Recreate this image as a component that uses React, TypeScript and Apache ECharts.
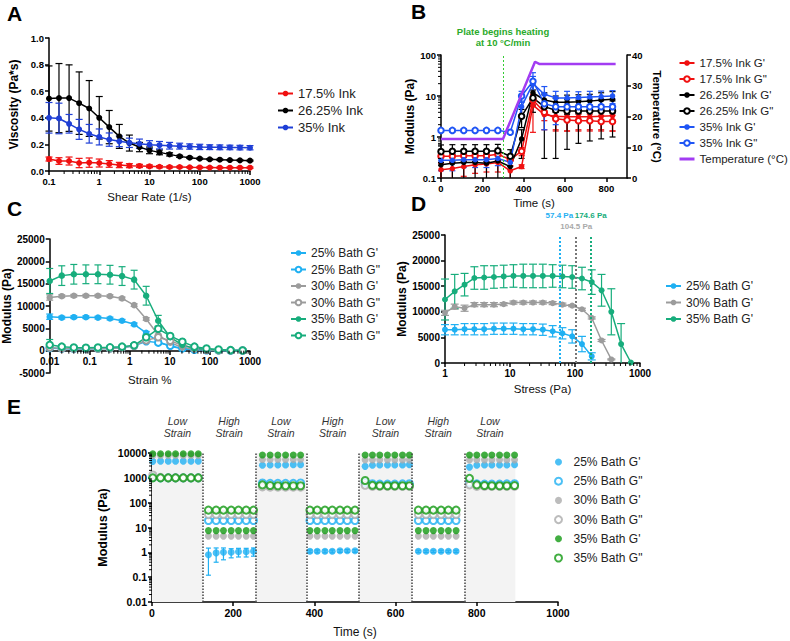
import React, { useEffect, useRef } from "react";
import * as echarts from "echarts";

const FONT = "Liberation Sans, Arial, sans-serif";

// ---------------- Panel A : viscosity ----------------
const shearRate = [0.1, 0.158, 0.251, 0.398, 0.631, 1, 1.58, 2.51, 3.98, 6.31, 10, 15.8, 25.1, 39.8, 63.1, 100, 158, 251, 398, 631, 1000];
const visc175 = [0.09, 0.075, 0.075, 0.06, 0.063, 0.06, 0.053, 0.045, 0.04, 0.038, 0.035, 0.032, 0.03, 0.03, 0.028, 0.027, 0.026, 0.025, 0.025, 0.025, 0.025];
const visc175Err = [0.015, 0.025, 0.03, 0.035, 0.035, 0.03, 0.025, 0.02, 0.015, 0.012, 0.01, 0.008, 0.007, 0.006, 0.005, 0.005, 0.005, 0.005, 0.005, 0.005, 0.005];
const visc2625 = [0.545, 0.548, 0.548, 0.51, 0.47, 0.4, 0.33, 0.26, 0.21, 0.18, 0.155, 0.14, 0.125, 0.11, 0.1, 0.093, 0.088, 0.085, 0.082, 0.08, 0.078];
const visc2625Err = [0.245, 0.26, 0.25, 0.235, 0.21, 0.16, 0.125, 0.09, 0.06, 0.035, 0.025, 0.018, 0.012, 0.008, 0.006, 0.005, 0.005, 0.005, 0.004, 0.004, 0.004];
const visc35 = [0.4, 0.395, 0.355, 0.313, 0.28, 0.256, 0.236, 0.223, 0.212, 0.205, 0.198, 0.194, 0.19, 0.187, 0.184, 0.181, 0.179, 0.178, 0.177, 0.176, 0.175];
const visc35Err = [0.115, 0.115, 0.07, 0.075, 0.07, 0.06, 0.05, 0.04, 0.035, 0.035, 0.03, 0.028, 0.025, 0.022, 0.02, 0.02, 0.018, 0.018, 0.017, 0.017, 0.016];
const inkNames = ["17.5% Ink", "26.25% Ink", "35% Ink"];

// ---------------- Panel B : temperature ramp ----------------
const bTime = [0, 55, 110, 165, 220, 275, 335, 390, 445, 500, 555, 610, 665, 720, 775, 830];
const b175Gp = [0.16, 0.17, 0.19, 0.21, 0.22, 0.24, 0.15, 0.19, 6, 3.5, 3.2, 3.1, 3.1, 3.1, 3.2, 3.3];
const b175GpErr = [0.07, 0.07, 0.08, 0.08, 0.08, 0.1, 0.05, 0.02, 4.7, 2, 1.8, 1.7, 1.6, 1.6, 1.7, 1.9];
const b175Gpp = [0.34, 0.34, 0.35, 0.35, 0.35, 0.38, 0.28, 0.45, 8, 4, 2.8, 2.6, 2.5, 2.5, 2.4, 2.4];
const b175GppErr = [0.1, 0.1, 0.1, 0.1, 0.1, 0.12, 0.08, 0.1, 2.5, 1.5, 1.3, 1.2, 1.1, 1.1, 1.0, 1.0];
const b2625Gp = [0.21, 0.23, 0.24, 0.24, 0.23, 0.26, 0.19, 0.9, 12, 8, 7, 7, 7.2, 7.5, 8, 8.3];
const b2625GpErr = [0.13, 0.14, 0.15, 0.15, 0.14, 0.18, 0.1, 0.6, 6, 4, 3, 3.5, 3.5, 3.5, 4, 4.5];
const b2625Gpp = [0.44, 0.45, 0.45, 0.45, 0.45, 0.46, 0.34, 3.2, 9, 5.5, 4.5, 4.3, 4.3, 4.3, 4.3, 4.3];
const b2625GppErr = [0.2, 0.2, 0.2, 0.2, 0.2, 0.2, 0.15, 1.5, 5, 5.2, 4.2, 3.8, 3.6, 3.5, 3.4, 3.3];
const b35Gp = [0.27, 0.27, 0.28, 0.28, 0.28, 0.3, 0.24, 5.5, 20, 11, 9, 9, 9.2, 9.5, 9.7, 10];
const b35GpErr = [0.12, 0.12, 0.1, 0.1, 0.1, 0.1, 0.08, 2, 10, 6, 4, 4, 3.5, 3.5, 3.5, 3.5];
const b35Gpp = [1.45, 1.45, 1.45, 1.45, 1.45, 1.45, 1.3, 10, 23, 6.5, 5.5, 5.5, 5.5, 5.5, 5.5, 5.5];
const b35GppErr = [0.12, 0.12, 0.1, 0.1, 0.1, 0.1, 0.1, 3, 14, 5, 3.5, 3, 3, 3, 3, 3];
const tempTime = [0, 300, 455, 475, 845];
const tempValue = [12.7, 12.7, 37.8, 37.1, 37.1];
const heatingStart = 300;
const bNames = ["17.5% Ink G'", '17.5% Ink G"', "26.25% Ink G'", '26.25% Ink G"', "35% Ink G'", '35% Ink G"', "Temperature (°C)"];

// ---------------- Panel C : strain sweep ----------------
const strainPct = [0.01, 0.02, 0.04, 0.08, 0.16, 0.32, 0.64, 1.28, 2.56, 5.12, 10.2, 20.5, 41, 82, 164, 328, 655];
const c25Gp = [7600, 7400, 7500, 7500, 7400, 7200, 6700, 5900, 4000, 2000, 1000, 400, 200, 100, 50, 20, 10];
const c25GpErr = [600, 300, 300, 300, 300, 300, 300, 300, 300, 200, 100, 50, 30, 20, 10, 5, 5];
const c25Gpp = [600, 450, 400, 400, 450, 500, 650, 1100, 2100, 1800, 1100, 500, 200, 100, 50, 20, 10];
const c30Gp = [11900, 12200, 12300, 12300, 12300, 12200, 11700, 10200, 7100, 3500, 1800, 700, 300, 150, 80, 40, 20];
const c30GpErr = [600, 300, 300, 300, 300, 300, 300, 300, 300, 200, 100, 50, 30, 20, 10, 5, 5];
const c30Gpp = [700, 500, 450, 450, 450, 500, 650, 1100, 2300, 3000, 2200, 1200, 500, 200, 100, 50, 30];
const c35Gp = [15600, 16800, 17100, 17100, 17100, 17000, 16700, 15900, 12300, 6700, 3000, 1300, 500, 300, 150, 80, 40];
const c35GpErr = [2800, 2200, 2200, 2100, 2100, 2100, 2100, 2100, 2100, 1200, 500, 300, 200, 100, 50, 30, 20];
const c35Gpp = [1300, 900, 700, 650, 700, 750, 900, 1200, 3000, 4900, 3300, 2000, 900, 500, 250, 120, 50];
const c35GppErr = [1200, 300, 200, 200, 200, 200, 200, 300, 400, 500, 300, 200, 100, 50, 30, 20, 10];
const bathNames = ["25% Bath G'", '25% Bath G"', "30% Bath G'", '30% Bath G"', "35% Bath G'", '35% Bath G"'];

// ---------------- Panel D : stress sweep ----------------
const stress = [1, 1.41, 2, 2.83, 4, 5.66, 8, 11.3, 16, 22.6, 32, 45.3, 64, 90.5, 128, 181, 256, 362, 512, 724];
const d25Gp = [6500, 6500, 6600, 6600, 6600, 6700, 6700, 6700, 6600, 6600, 6500, 6200, 5800, 5200, 3700, 1300];
const d25GpErr = [1000, 1000, 1100, 1100, 1100, 1100, 1100, 1100, 1100, 1100, 1100, 1100, 1100, 1300, 1500, 700];
const d30Gp = [9800, 11000, 10700, 11400, 11400, 11400, 11500, 11800, 11800, 11800, 11800, 11700, 11400, 11200, 10500, 8800, 4400, 700];
const d30GpErr = [500, 500, 600, 400, 400, 400, 300, 300, 300, 300, 300, 300, 300, 200, 200, 200, 200, 100];
const d35Gp = [12400, 14000, 15300, 16600, 16700, 16800, 16900, 17000, 17000, 17000, 17000, 17000, 16900, 16800, 16500, 15800, 14200, 10000, 3700, 100];
const d35GpErr = [4000, 3300, 2200, 2200, 2300, 2200, 2200, 2200, 2300, 2300, 2300, 2200, 2200, 2200, 2200, 2400, 3100, 4500, 4000, 0];
const yieldStress = [57.4, 104.5, 174.6];
const yieldLabels = ["57.4 Pa", "104.5 Pa", "174.6 Pa"];
const dNames = ["25% Bath G'", "30% Bath G'", "35% Bath G'"];

// ---------------- Panel E : recovery ----------------
const eTime = [2, 21, 40, 58, 77, 96, 114, 139, 158, 176, 195, 213, 232, 250, 272, 291, 310, 329, 348, 366, 389, 407, 426, 444, 463, 481, 500, 525, 543, 561, 580, 598, 617, 634, 656, 675, 693, 712, 730, 749, 782, 800, 819, 837, 856, 874, 893];
const e25Gp = [4600, 4700, 4700, 4700, 4700, 4700, 4700, 0.8, 0.95, 1.0, 1.0, 1.05, 1.05, 1.1, 3200, 3300, 3300, 3300, 3400, 3400, 1.1, 1.1, 1.1, 1.1, 1.15, 1.15, 1.15, 2900, 3200, 3300, 3300, 3300, 3300, 3400, 1.1, 1.1, 1.1, 1.1, 1.1, 1.1, 2700, 3200, 3300, 3300, 3300, 3300, 3400];
const e25GpErr = [0, 0, 0, 0, 0, 0, 0, 0.68, 0.55, 0.5, 0.4, 0.4, 0.4, 0.4, 0, 0, 0, 0, 0, 0, 0.15, 0.15, 0.15, 0.15, 0.15, 0.15, 0.15, 0, 0, 0, 0, 0, 0, 0, 0.12, 0.12, 0.12, 0.12, 0.12, 0.12, 0, 0, 0, 0, 0, 0, 0];
const e25Gpp = [1050, 1000, 1000, 1000, 1000, 1000, 1000, 19, 19, 19, 19, 19, 19, 19, 620, 600, 600, 600, 600, 620, 19, 19, 19, 19, 19, 19, 19, 650, 580, 560, 560, 560, 570, 580, 19, 19, 19, 19, 19, 19, 620, 570, 560, 560, 560, 570, 580];
const e30Gp = [8000, 8000, 8000, 8000, 8000, 8000, 8000, 4.5, 4.5, 4.5, 4.5, 4.5, 4.5, 4.5, 5500, 5500, 5500, 5500, 5500, 5500, 4.5, 4.5, 4.5, 4.5, 4.5, 4.5, 4.5, 5300, 5300, 5300, 5300, 5300, 5300, 5300, 4.5, 4.5, 4.5, 4.5, 4.5, 4.5, 5300, 5300, 5300, 5300, 5300, 5300, 5300];
const e30Gpp = [1300, 1050, 1000, 1000, 1000, 1000, 1000, 33, 33, 33, 33, 33, 33, 33, 430, 420, 420, 420, 420, 420, 33, 33, 33, 33, 33, 33, 33, 500, 450, 450, 450, 450, 450, 450, 33, 33, 33, 33, 33, 33, 520, 450, 450, 450, 450, 450, 450];
const e35Gp = [9300, 9300, 9300, 9300, 9300, 9300, 9300, 7.5, 7.5, 7.5, 7.5, 7.5, 7.5, 7.5, 8300, 8300, 8300, 8300, 8300, 8300, 7.5, 7.5, 7.5, 7.5, 7.5, 7.5, 7.5, 8300, 8300, 8300, 8300, 8300, 8300, 8300, 7.5, 7.5, 7.5, 7.5, 7.5, 7.5, 8300, 8300, 8300, 8300, 8300, 8300, 8300];
const e35Gpp = [1000, 1000, 1000, 1000, 1000, 1000, 1000, 50, 50, 50, 50, 50, 50, 50, 520, 490, 480, 480, 480, 480, 50, 50, 50, 50, 50, 50, 50, 780, 500, 480, 480, 480, 480, 480, 50, 50, 50, 50, 50, 50, 950, 520, 490, 480, 480, 480, 490];
const lowStrainPeriods = [[0, 125], [255, 380], [510, 640], [770, 895]];
const highStrainPeriods = [[125, 255], [380, 510], [640, 770]];
const phaseBoundaries = [125, 255, 380, 510, 640, 770];

// ---------------- colours ----------------
const RED = "#f01010";
const BLACK = "#000000";
const BLUE_A = "#1f3fd6";
const BLUE_B = "#1f55f5";
const PURPLE = "#a23cf2";
const SKY = "#1fb0f2";
const GREY = "#9c9c9c";
const TEAL = "#17ad7c";
const GREEN_E = "#139a13";
const GREY_E = "#ababab";

const pairs = (xs: number[], ys: number[]) => ys.map((y, i) => [xs[i], y]);
const plain = (v: number) => String(v);

function lineS(name: string, ax: number, xs: number[], ys: number[], color: string, open: boolean, size = 6, width = 1.5) {
  return {
    type: "line",
    name,
    xAxisIndex: ax,
    yAxisIndex: ax,
    data: pairs(xs, ys),
    symbol: open ? "emptyCircle" : "circle",
    symbolSize: size,
    showSymbol: true,
    lineStyle: { color, width },
    itemStyle: { color, borderColor: color, borderWidth: open ? 1.4 : 0 },
    emphasis: { disabled: true },
    z: 4,
  };
}

function dotS(name: string, xs: number[], ys: number[], color: string, open: boolean) {
  return {
    type: "scatter",
    name,
    xAxisIndex: 4,
    yAxisIndex: 4,
    data: pairs(xs, ys),
    symbol: open ? "emptyCircle" : "circle",
    symbolSize: 7,
    itemStyle: { color, borderColor: color, borderWidth: open ? 1.5 : 0 },
    emphasis: { disabled: true },
    z: 4,
  };
}

function errS(ax: number, xs: number[], ys: number[], es: number[], color: string, floor: number, cap = 6, width = 1.2) {
  return {
    type: "custom",
    xAxisIndex: ax,
    yAxisIndex: ax,
    silent: true,
    z: 3,
    data: ys.map((y, i) => [xs[i], Math.max(y - es[i], floor), y + es[i], y - es[i] > floor ? 1 : 0]),
    encode: { x: 0, y: [1, 2] },
    renderItem: (_p: any, api: any) => {
      const x = api.value(0);
      const lo = api.value(1);
      const hi = api.value(2);
      if (!(hi > lo)) return { type: "group", children: [] };
      const a = api.coord([x, lo]);
      const b = api.coord([x, hi]);
      const w = cap / 2;
      const st = { stroke: color, lineWidth: width };
      const ch: any[] = [
        { type: "line", shape: { x1: a[0], y1: a[1], x2: b[0], y2: b[1] }, style: st },
        { type: "line", shape: { x1: b[0] - w, y1: b[1], x2: b[0] + w, y2: b[1] }, style: st },
      ];
      if (api.value(3) === 1) ch.push({ type: "line", shape: { x1: a[0] - w, y1: a[1], x2: a[0] + w, y2: a[1] }, style: st });
      return { type: "group", children: ch };
    },
  };
}

function decadeMinors(lo: number, hi: number) {
  const out: number[] = [];
  for (let d = lo; d < hi; d++) for (let k = 2; k <= 9; k++) out.push(k * Math.pow(10, d));
  return out;
}

function minorS(ax: number, values: number[], dir: "x" | "y", at: number, len = 3) {
  return {
    type: "custom",
    xAxisIndex: ax,
    yAxisIndex: ax,
    silent: true,
    z: 6,
    data: values.map((v) => (dir === "x" ? [v, at] : [at, v])),
    renderItem: (_p: any, api: any) => {
      const c = api.coord([api.value(0), api.value(1)]);
      const shape = dir === "x" ? { x1: c[0], y1: c[1], x2: c[0], y2: c[1] + len } : { x1: c[0], y1: c[1], x2: c[0] - len, y2: c[1] };
      return { type: "line", shape, style: { stroke: "#000", lineWidth: 1 } };
    },
  };
}

const label = (size: number, extra: any = {}) => ({ color: "#000", fontWeight: "bold", fontSize: size, margin: 5, fontFamily: FONT, formatter: plain, ...extra });

function ax(gridIndex: number, type: string, labelSize: number, o: any = {}) {
  return {
    gridIndex,
    type,
    axisLine: { show: true, onZero: false, lineStyle: { color: "#000", width: 1.5 } },
    axisTick: { show: true, length: 4, lineStyle: { color: "#000", width: 1.5 } },
    splitLine: { show: false },
    axisLabel: label(labelSize),
    nameLocation: "middle",
    nameTextStyle: { color: "#000", fontFamily: FONT, fontSize: 12 },
    ...o,
  };
}

const yName = (size = 12) => ({ color: "#000", fontFamily: FONT, fontSize: size, fontWeight: "bold" });
const xName = (size = 11.5) => ({ color: "#111", fontFamily: FONT, fontSize: size });

function legendBox(left: number, top: number, names: any[], gap: number, fontSize: number, extra: any = {}) {
  return {
    left,
    top,
    orient: "vertical",
    itemWidth: 15,
    itemHeight: 7,
    itemGap: gap,
    selectedMode: false,
    textStyle: { fontSize, color: "#222", fontFamily: FONT },
    data: names,
    ...extra,
  };
}

const strip = (n: string) => n.slice(2);

// C's x axis sits on y = 0: shift it up from the grid bottom by the pixel height of 5000 units
const C_GRID_H = 134;
const C_Y_MIN = -5000;
const C_Y_MAX = 25000;
const cZeroOffset = -Math.round((C_GRID_H * (0 - C_Y_MIN)) / (C_Y_MAX - C_Y_MIN));

export default function App() {
  const ref = useRef<HTMLDivElement>(null);
  useEffect(() => {
    if (!ref.current) return;
    const chart = echarts.init(ref.current, null, { renderer: "svg" });

    const series: any[] = [
      // ---- A
      errS(0, shearRate, visc175, visc175Err, RED, 0, 7),
      errS(0, shearRate, visc2625, visc2625Err, BLACK, 0, 7),
      errS(0, shearRate, visc35, visc35Err, BLUE_A, 0, 7),
      lineS(inkNames[0], 0, shearRate, visc175, RED, false),
      lineS(inkNames[1], 0, shearRate, visc2625, BLACK, false),
      lineS(inkNames[2], 0, shearRate, visc35, BLUE_A, false),
      minorS(0, decadeMinors(-1, 3), "x", 0),
      // ---- B
      errS(1, bTime, b175Gp, b175GpErr, RED, 0.1, 6),
      errS(1, bTime, b175Gpp, b175GppErr, RED, 0.1, 6),
      errS(1, bTime, b2625Gp, b2625GpErr, BLACK, 0.1, 6),
      errS(1, bTime, b2625Gpp, b2625GppErr, BLACK, 0.1, 6),
      errS(1, bTime, b35Gp, b35GpErr, BLUE_B, 0.1, 6),
      errS(1, bTime, b35Gpp, b35GppErr, BLUE_B, 0.1, 6),
      lineS(bNames[0], 1, bTime, b175Gp, RED, false, 5.5),
      lineS(bNames[1], 1, bTime, b175Gpp, RED, true, 5.5),
      lineS(bNames[2], 1, bTime, b2625Gp, BLACK, false, 5.5),
      lineS(bNames[3], 1, bTime, b2625Gpp, BLACK, true, 5.5),
      lineS(bNames[4], 1, bTime, b35Gp, BLUE_B, false, 5.5),
      {
        ...lineS(bNames[5], 1, bTime, b35Gpp, BLUE_B, true, 5.5),
        markLine: {
          silent: true,
          symbol: ["none", "none"],
          lineStyle: { color: "#33cc33", type: [2, 2], width: 1 },
          label: {
            show: true,
            position: "end",
            distance: 7,
            formatter: "Plate begins heating\nat 10 °C/min",
            color: "#2aaa2a",
            fontWeight: "bold",
            fontSize: 9.5,
            lineHeight: 11,
            fontFamily: FONT,
            align: "center",
          },
          data: [{ xAxis: heatingStart }],
        },
      },
      {
        type: "line",
        name: bNames[6],
        xAxisIndex: 1,
        yAxisIndex: 5,
        data: pairs(tempTime, tempValue),
        symbol: "none",
        lineStyle: { color: PURPLE, width: 2.5 },
        itemStyle: { color: PURPLE },
        emphasis: { disabled: true },
        z: 5,
      },
      minorS(1, decadeMinors(-1, 2), "y", 0),
      // ---- C
      errS(2, strainPct, c25Gp, c25GpErr, SKY, -5000, 7),
      errS(2, strainPct, c30Gp, c30GpErr, GREY, -5000, 7),
      errS(2, strainPct, c35Gp, c35GpErr, TEAL, -5000, 7),
      errS(2, strainPct, c35Gpp, c35GppErr, TEAL, -5000, 7),
      lineS("C:" + bathNames[0], 2, strainPct, c25Gp, SKY, false, 6.5),
      lineS("C:" + bathNames[1], 2, strainPct, c25Gpp, SKY, true, 6.5),
      lineS("C:" + bathNames[2], 2, strainPct, c30Gp, GREY, false, 6.5),
      lineS("C:" + bathNames[3], 2, strainPct, c30Gpp, GREY, true, 6.5),
      lineS("C:" + bathNames[4], 2, strainPct, c35Gp, TEAL, false, 6.5),
      lineS("C:" + bathNames[5], 2, strainPct, c35Gpp, TEAL, true, 6.5),
      minorS(2, decadeMinors(-2, 3), "x", 0),
      // ---- D
      errS(3, stress, d25Gp, d25GpErr, SKY, 0, 8),
      errS(3, stress, d30Gp, d30GpErr, GREY, 0, 8),
      errS(3, stress, d35Gp, d35GpErr, TEAL, 0, 8),
      {
        ...lineS("D:" + dNames[0], 3, stress.slice(0, d25Gp.length), d25Gp, SKY, false, 6),
        markLine: {
          silent: true,
          symbol: ["none", "none"],
          label: { show: true, position: "end", fontWeight: "bold", fontSize: 8, fontFamily: FONT },
          data: [
            { xAxis: yieldStress[0], lineStyle: { color: SKY, type: "dotted", width: 2 }, label: { formatter: yieldLabels[0], color: SKY, distance: 16 } },
            { xAxis: yieldStress[1], lineStyle: { color: "#777", type: "dotted", width: 2 }, label: { formatter: yieldLabels[1], color: "#aaa", distance: 5 } },
            { xAxis: yieldStress[2], lineStyle: { color: TEAL, type: "dotted", width: 2 }, label: { formatter: yieldLabels[2], color: TEAL, distance: 16 } },
          ],
        },
      },
      lineS("D:" + dNames[1], 3, stress.slice(0, d30Gp.length), d30Gp, GREY, false, 6),
      lineS("D:" + dNames[2], 3, stress, d35Gp, TEAL, false, 6),
      minorS(3, decadeMinors(0, 3), "x", 0),
      // ---- E
      {
        ...dotS("E:" + bathNames[0], eTime, e25Gp, SKY, false),
        markArea: {
          silent: true,
          itemStyle: { color: "#f3f3f3" },
          label: { show: true, position: "top", distance: 14, formatter: "Low\nStrain", fontStyle: "italic", fontSize: 10.5, lineHeight: 12, color: "#333", fontFamily: FONT },
          data: lowStrainPeriods.map((p) => [{ xAxis: p[0] }, { xAxis: p[1] }]),
        },
        markLine: {
          silent: true,
          symbol: ["none", "none"],
          label: { show: false },
          lineStyle: { color: "#444", type: "dotted", width: 1.5 },
          data: phaseBoundaries.map((b) => ({ xAxis: b })),
        },
      },
      {
        ...dotS("E:" + bathNames[1], eTime, e25Gpp, SKY, true),
        markArea: {
          silent: true,
          itemStyle: { color: "rgba(0,0,0,0)" },
          label: { show: true, position: "top", distance: 14, formatter: "High\nStrain", fontStyle: "italic", fontSize: 10.5, lineHeight: 12, color: "#333", fontFamily: FONT },
          data: highStrainPeriods.map((p) => [{ xAxis: p[0] }, { xAxis: p[1] }]),
        },
      },
      dotS("E:" + bathNames[2], eTime, e30Gp, GREY_E, false),
      dotS("E:" + bathNames[3], eTime, e30Gpp, GREY_E, true),
      dotS("E:" + bathNames[4], eTime, e35Gp, GREEN_E, false),
      dotS("E:" + bathNames[5], eTime, e35Gpp, GREEN_E, true),
      errS(4, eTime, e25Gp, e25GpErr, SKY, 0.01, 5),
      minorS(4, decadeMinors(-2, 4), "y", 0),
    ];

    const option: any = {
      animation: false,
      textStyle: { fontFamily: FONT },
      grid: [
        { left: 49, top: 38, width: 201, height: 133 },
        { left: 441, top: 55, width: 186, height: 123 },
        { left: 49, top: 239, width: 201, height: C_GRID_H },
        { left: 445, top: 235, width: 195, height: 128 },
        { left: 152, top: 453, width: 406, height: 149 },
      ],
      xAxis: [
        ax(0, "log", 9.5, { min: 0.1, max: 1000, name: "Shear Rate (1/s)", nameGap: 20, nameTextStyle: xName() }),
        ax(1, "value", 9.5, { min: 0, max: 900, interval: 200, name: "Time (s)", nameGap: 19, nameTextStyle: xName(), axisLabel: label(9.5, { showMaxLabel: false }) }),
        ax(2, "log", 10, { min: 0.01, max: 1000, offset: cZeroOffset, name: "Strain %", nameGap: 23, nameMoveOverlap: false, nameTextStyle: xName() }),
        ax(3, "log", 10, { min: 1, max: 1000, name: "Stress (Pa)", nameGap: 20, nameTextStyle: xName() }),
        ax(4, "value", 10.5, { min: 0, max: 1000, interval: 200, name: "Time (s)", nameGap: 24, nameTextStyle: xName(12) }),
      ],
      yAxis: [
        ax(0, "value", 9.5, { min: 0, max: 1, interval: 0.2, name: "Viscosity (Pa*s)", nameGap: 29, nameTextStyle: yName(), axisLabel: label(9.5, { formatter: (v: number) => v.toFixed(1) }) }),
        ax(1, "log", 9.5, { min: 0.1, max: 100, name: "Modulus (Pa)", nameGap: 23, nameTextStyle: yName() }),
        ax(2, "value", 10, { min: C_Y_MIN, max: C_Y_MAX, interval: 5000, name: "Modulus (Pa)", nameGap: 36, nameTextStyle: yName() }),
        ax(3, "value", 10, { min: 0, max: 25000, interval: 5000, name: "Modulus (Pa)", nameGap: 35, nameTextStyle: yName() }),
        ax(4, "log", 10.5, { min: 0.01, max: 10000, name: "Modulus (Pa)", nameGap: 43, nameMoveOverlap: false, nameTextStyle: yName(12.5) }),
        ax(1, "value", 9.5, { position: "right", min: 0, max: 40, interval: 10, name: "Temperature (°C)", nameRotate: -90, nameGap: 24, nameTextStyle: yName(11.5) }),
      ],
      legend: [
        legendBox(272, 82, inkNames, 4, 13),
        legendBox(673, 52, [
          ...bNames.slice(0, 6),
          { name: bNames[6], itemStyle: { color: "rgba(0,0,0,0)", borderWidth: 0 }, lineStyle: { width: 3, color: PURPLE } },
        ], 4, 11.5),
        legendBox(285, 242, bathNames.map((n) => "C:" + n), 4.5, 12, { formatter: strip }),
        legendBox(660, 275, dNames.map((n) => "D:" + n), 4.5, 12, { formatter: strip }),
        legendBox(549, 451, bathNames.map((n) => "E:" + n), 7.2, 12, { formatter: strip, itemWidth: 20, itemHeight: 7 }),
      ],
      graphic: [
        { type: "text", x: 7, y: 3, style: { text: "A", font: `bold 21px ${FONT}`, fill: "#000" } },
        { type: "text", x: 411, y: 1, style: { text: "B", font: `bold 21px ${FONT}`, fill: "#000" } },
        { type: "text", x: 7, y: 198, style: { text: "C", font: `bold 21px ${FONT}`, fill: "#000" } },
        { type: "text", x: 411, y: 193, style: { text: "D", font: `bold 21px ${FONT}`, fill: "#000" } },
        { type: "text", x: 7, y: 396, style: { text: "E", font: `bold 21px ${FONT}`, fill: "#000" } },
      ],
      series,
    };

    chart.setOption(option);
    return () => chart.dispose();
  }, []);

  return <div ref={ref} style={{ position: "absolute", left: 0, top: 0, width: 790, height: 641, background: "#fff" }} />;
}
